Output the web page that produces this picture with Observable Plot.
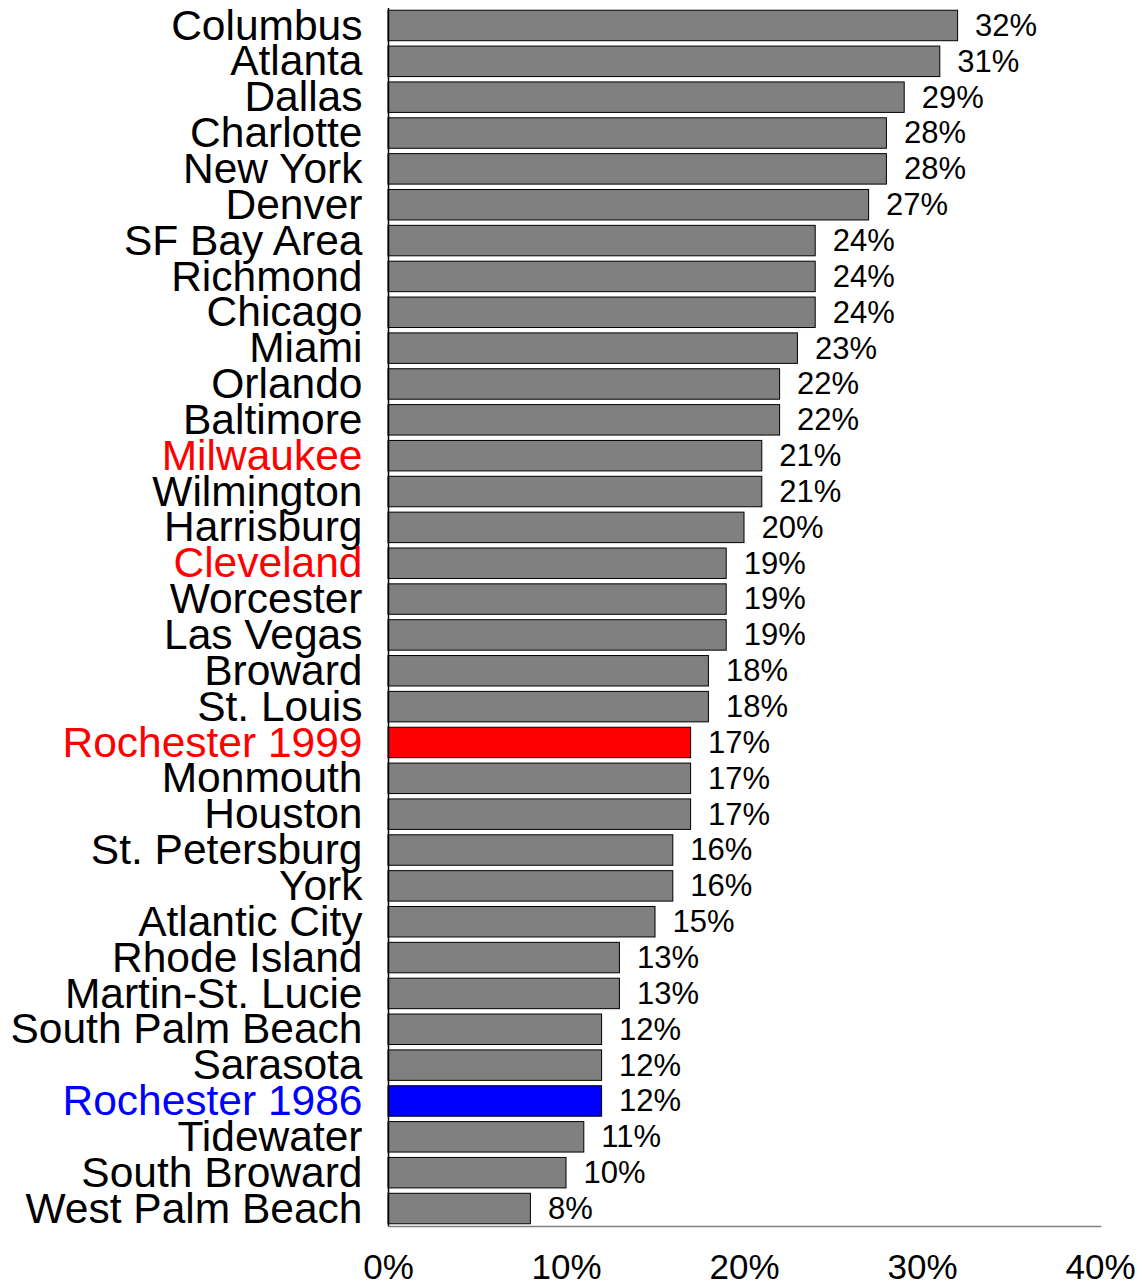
<!DOCTYPE html>
<html>
<head>
<meta charset="utf-8">
<script src="https://cdn.jsdelivr.net/npm/d3@7"></script>
<script src="https://cdn.jsdelivr.net/npm/@observablehq/plot@0.6"></script>
<style>
  html, body { margin: 0; padding: 0; background: #fff; }
  #chart svg { display: block; }
</style>
</head>
<body>
<div id="chart"></div>
<script>
const cities = [
  "Columbus", "Atlanta", "Dallas", "Charlotte", "New York", "Denver",
  "SF Bay Area", "Richmond", "Chicago", "Miami", "Orlando", "Baltimore",
  "Milwaukee", "Wilmington", "Harrisburg", "Cleveland", "Worcester", "Las Vegas",
  "Broward", "St. Louis", "Rochester 1999", "Monmouth", "Houston", "St. Petersburg",
  "York", "Atlantic City", "Rhode Island", "Martin-St. Lucie", "South Palm Beach",
  "Sarasota", "Rochester 1986", "Tidewater", "South Broward", "West Palm Beach"
];
const values = [
  32, 31, 29, 28, 28, 27,
  24, 24, 24, 23, 22, 22,
  21, 21, 20, 19, 19, 19,
  18, 18, 17, 17, 17, 16,
  16, 15, 13, 13, 12,
  12, 12, 11, 10, 8
];
const xTicks = [0, 10, 20, 30, 40];

const barHighlight = { "Rochester 1999": "#ff0000", "Rochester 1986": "#0000ff" };
const labelHighlight = { "Milwaukee": "#ff0000", "Cleveland": "#ff0000", "Rochester 1999": "#ff0000", "Rochester 1986": "#0000ff" };

const table = cities.map((city, i) => ({ city, value: values[i] }));

const chart = Plot.plot({
  width: 1142,
  height: 1284,
  marginLeft: 388,
  marginRight: 42,
  marginTop: 8,
  marginBottom: 58,
  style: { fontFamily: "'Liberation Sans', Arial, Helvetica, sans-serif", background: "#fff" },
  x: { domain: [0, 40], axis: null },
  y: { domain: cities, paddingInner: 0.15, paddingOuter: 0.0625, round: false, axis: null },
  marks: [
    Plot.barX(table, {
      x: "value",
      y: "city",
      fill: d => barHighlight[d.city] || "#808080",
      stroke: "#000",
      strokeWidth: 1
    }),
    Plot.text(table, {
      x: "value",
      y: "city",
      text: d => `${d.value}%`,
      dx: 17,
      textAnchor: "start",
      fontSize: 31,
      fill: "#000"
    }),
    Plot.text(table, {
      x: 0,
      y: "city",
      text: "city",
      dx: -26,
      textAnchor: "end",
      fontSize: 42.5,
      fill: d => labelHighlight[d.city] || "#000"
    }),
    Plot.ruleX([0], { stroke: "#000", strokeWidth: 1.5 }),
    Plot.frame({ anchor: "bottom", stroke: "#808080", strokeWidth: 1.5 }),
    Plot.axisX(xTicks, {
      label: null,
      tickSize: 0,
      tickPadding: 28,
      fontSize: 35,
      tickFormat: d => `${d}%`,
      fill: "#000"
    })
  ]
});

document.getElementById("chart").appendChild(chart);
</script>
</body>
</html>
